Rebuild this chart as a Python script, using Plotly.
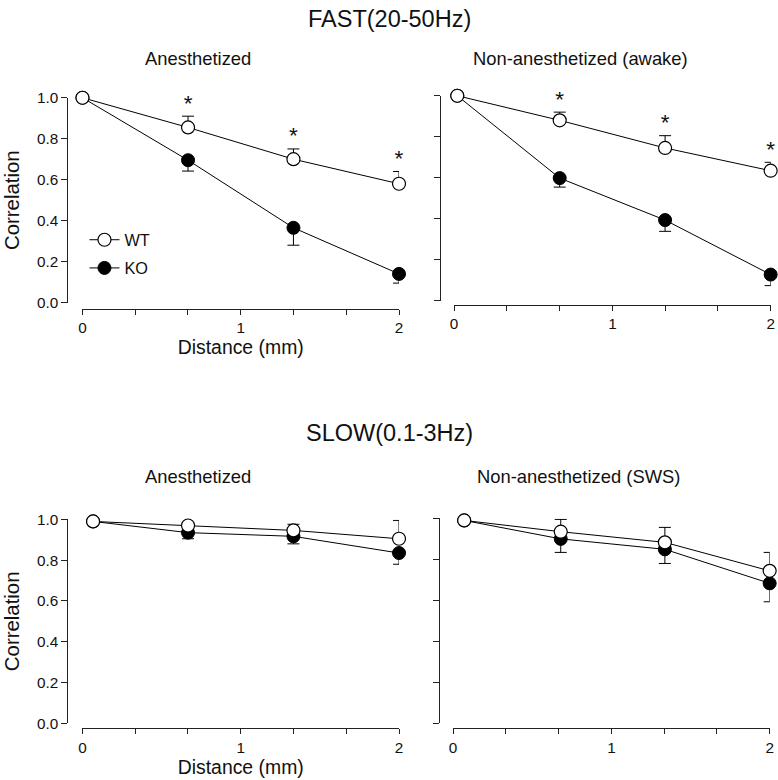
import plotly.graph_objects as go

W, H = 778, 780

# ---------------- data ----------------
fast_an_x = [0, 0.667, 1.333, 2]
fast_an_wt = [1.0, 0.855, 0.70, 0.58]
fast_an_wt_err = [0, 0.055, 0.05, 0.06]
fast_an_ko = [1.0, 0.695, 0.365, 0.14]
fast_an_ko_err = [0, 0.053, 0.085, 0.045]

fast_aw_x = [0.02, 0.667, 1.333, 2]
fast_aw_wt = [1.0, 0.88, 0.745, 0.634]
fast_aw_wt_err = [0, 0.04, 0.06, 0.041]
fast_aw_ko = [1.0, 0.598, 0.393, 0.127]
fast_aw_ko_err = [0, 0.044, 0.055, 0.054]

slow_an_x = [0.067, 0.667, 1.333, 2]
slow_an_wt = [0.99, 0.97, 0.946, 0.905]
slow_an_wt_err = [0, 0.035, 0.03, 0.09]
slow_an_ko = [0.99, 0.935, 0.917, 0.835]
slow_an_ko_err = [0, 0.03, 0.037, 0.055]

slow_sws_x = [0.07, 0.68, 1.338, 2]
slow_sws_wt = [0.99, 0.935, 0.883, 0.744]
slow_sws_wt_err = [0, 0.06, 0.073, 0.09]
slow_sws_ko = [0.99, 0.90, 0.849, 0.683]
slow_sws_ko_err = [0, 0.066, 0.069, 0.09]

# significance markers (index of points with *), fast panels only
fast_an_sig = [1, 2, 3]
fast_aw_sig = [1, 2, 3]

x_tickvals = [0, 1/3, 2/3, 1, 4/3, 5/3, 2]
x_ticktext = ["0", "", "", "1", "", "", "2"]
y_tickvals = [0, 0.2, 0.4, 0.6, 0.8, 1.0]
y_ticktext = ["0.0", "0.2", "0.4", "0.6", "0.8", "1.0"]

titles_main = ["FAST(20-50Hz)", "SLOW(0.1-3Hz)"]
titles_panel = ["Anesthetized", "Non-anesthetized (awake)",
                "Anesthetized", "Non-anesthetized (SWS)"]

FONT = "Arial, Liberation Sans, Helvetica, sans-serif"
INK = "#111111"

# compensation for slight page scaling observed in the viewer
SX, SY = 0.988, 0.979
CX, CY = 389.0, 390.0

def px(x):
    return min(1.0, max(0.0, (CX + (x - CX) / SX) / W))

def py(y):
    return min(1.0, max(0.0, 1 - (CY + (y - CY) / SY) / H))

def fs(s):
    return round(s / SY, 1)

# panel geometry in pixels: (x0, x1, ytop(1.0), ybottom(0.0), yaxis_x, xaxis_y)
panels = [
    (83, 399, 97, 302, 68, 308),
    (454, 770, 95, 300, 440, 304),
    (83, 399, 519, 723, 68, 728),
    (453, 769, 518, 723, 439, 728),
]

panel_data = [
    (fast_an_x, fast_an_wt, fast_an_wt_err, fast_an_ko, fast_an_ko_err, fast_an_sig),
    (fast_aw_x, fast_aw_wt, fast_aw_wt_err, fast_aw_ko, fast_aw_ko_err, fast_aw_sig),
    (slow_an_x, slow_an_wt, slow_an_wt_err, slow_an_ko, slow_an_ko_err, []),
    (slow_sws_x, slow_sws_wt, slow_sws_wt_err, slow_sws_ko, slow_sws_ko_err, []),
]

fig = go.Figure()
layout = dict(
    width=W, height=H,
    margin=dict(l=0, r=0, t=0, b=0),
    paper_bgcolor="white", plot_bgcolor="rgba(0,0,0,0)",
    font=dict(family=FONT, color=INK),
    showlegend=True,
)

for i, (geom, dat) in enumerate(zip(panels, panel_data)):
    n = i + 1
    sfx = "" if n == 1 else str(n)
    x0, x1, yt, yb, yax, xay = geom
    xs, wt, wte, ko, koe, sig = dat
    xname, yname = "x" + sfx, "y" + sfx

    # KO first (below), WT on top
    fig.add_trace(go.Scatter(
        x=xs, y=ko, xaxis=xname, yaxis=yname, mode="lines+markers",
        name="KO", legendrank=2, legendgroup="ko", showlegend=(i == 0),
        line=dict(color="black", width=1),
        marker=dict(symbol="circle", size=13, color="black",
                    line=dict(color="black", width=1)),
        error_y=dict(type="data", symmetric=False, array=[0] * len(koe),
                     arrayminus=koe, color="black", thickness=1, width=6),
        cliponaxis=False,
    ))
    fig.add_trace(go.Scatter(
        x=xs, y=wt, xaxis=xname, yaxis=yname, mode="lines+markers",
        name="WT", legendrank=1, legendgroup="wt", showlegend=(i == 0),
        line=dict(color="black", width=1),
        marker=dict(symbol="circle", size=13, color="white",
                    line=dict(color="black", width=1.2)),
        error_y=dict(type="data", symmetric=False, array=wte,
                     arrayminus=[0] * len(wte), color="black", thickness=1, width=6),
        cliponaxis=False,
    ))
    if sig:
        fig.add_trace(go.Scatter(
            x=[xs[k] for k in sig], y=[wt[k] + wte[k] for k in sig],
            xaxis=xname, yaxis=yname, mode="text",
            text=["*"] * len(sig), textposition="top center",
            textfont=dict(size=fs(22), color=INK, family=FONT),
            showlegend=False, cliponaxis=False, hoverinfo="skip",
        ))

    left = (i % 2 == 0)
    layout["xaxis" + sfx] = dict(
        domain=[px(x0), px(x1)], range=[0, 2], anchor="free", position=py(xay),
        tickmode="array", tickvals=x_tickvals, ticktext=x_ticktext,
        ticks="outside", ticklen=5, tickwidth=1, tickcolor="#222",
        showline=True, linecolor="#222", linewidth=1, showgrid=False, zeroline=False,
        tickfont=dict(size=fs(15), color=INK),
        title=dict(text="Distance (mm)" if left else "", font=dict(size=fs(19), color=INK),
                   standoff=5),
    )
    layout["yaxis" + sfx] = dict(
        domain=[py(yb), py(yt)], range=[0, 1], anchor="free", position=px(yax),
        tickmode="array", tickvals=y_tickvals, ticktext=y_ticktext if left else [""] * 6,
        ticks="outside", ticklen=6, tickwidth=1, tickcolor="#222",
        showline=True, linecolor="#222", linewidth=1, showgrid=False, zeroline=False,
        tickfont=dict(size=fs(15), color=INK),
        title=dict(text="Correlation" if left else "", font=dict(size=fs(20), color=INK),
                   standoff=10),
    )

annotations = []
for txt, y in zip(titles_main, [18, 433]):
    annotations.append(dict(text=txt, x=px(389), y=py(y), xref="paper", yref="paper",
                            xanchor="center", yanchor="middle", showarrow=False,
                            font=dict(size=fs(23), color=INK, family=FONT)))
for txt, (cx, cy) in zip(titles_panel, [(198, 58), (580, 58), (198, 476), (578, 476)]):
    annotations.append(dict(text=txt, x=px(cx), y=py(cy), xref="paper", yref="paper",
                            xanchor="center", yanchor="middle", showarrow=False,
                            font=dict(size=fs(18), color=INK, family=FONT)))
layout["annotations"] = annotations

layout["legend"] = dict(
    x=px(85), y=py(222), xanchor="left", yanchor="top",
    bgcolor="rgba(0,0,0,0)", font=dict(size=fs(16), color=INK, family=FONT),
    tracegroupgap=4, itemwidth=30, traceorder="grouped",
)

fig.update_layout(**layout)
fig.write_html("out.html", config={"displayModeBar": False},
               post_script="document.body.style.margin='0px';document.body.style.padding='0px';")
